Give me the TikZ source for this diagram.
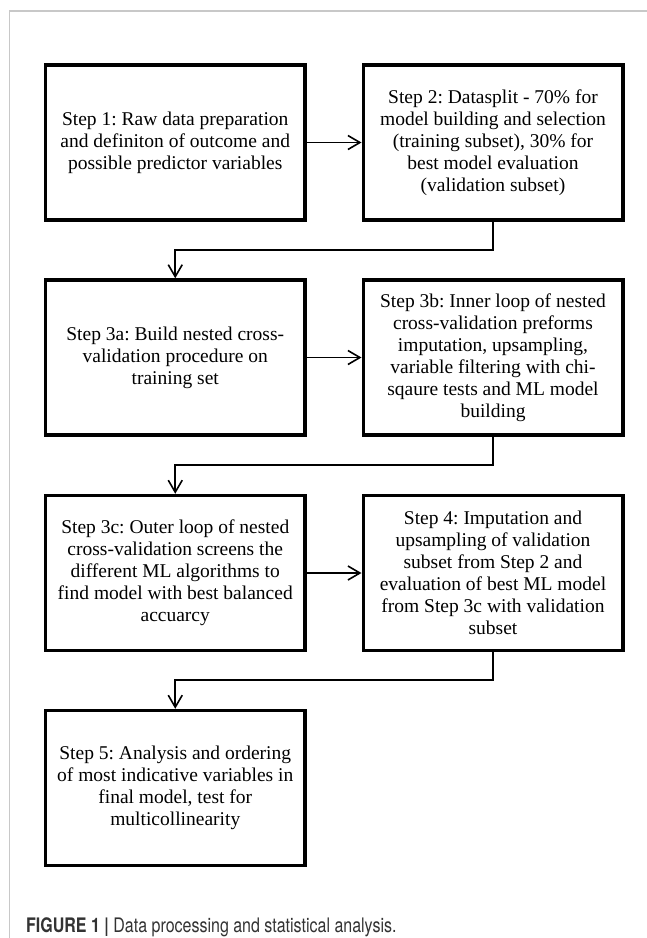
\documentclass[tikz,border=0pt]{standalone}
\usepackage{fontspec}
\setmainfont{Liberation Serif}
\newfontfamily\capfont[FakeStretch=0.8]{TeX Gyre Heros}
\usetikzlibrary{arrows.meta}
\definecolor{framegray}{HTML}{C8C8C8}
\definecolor{captext}{HTML}{333333}
\tikzset{
  stepbox/.style={draw=black, line width=3.5pt, rectangle, minimum width=259.5pt, minimum height=155pt, align=center, inner sep=0pt, font=\frenchspacing\fontsize{19.5}{22}\selectfont},
  conn/.style={line width=1.6pt, -{Straight Barb[length=12pt,width=14pt,line width=1.6pt]}},
}
\begin{document}
\begin{tikzpicture}[x=1pt,y=-1pt]
\useasboundingbox (0,0) rectangle (647,938);
\draw[framegray, line width=1.5pt] (647,11) -- (9.5,11) -- (9.5,938);

\node[stepbox] (b1) at (175.25,142.5) {Step 1: Raw data preparation\\and definiton of outcome and\\possible predictor variables};
\node[stepbox] (b2) at (493,142.5) {Step 2: Datasplit - 70\% for\\model building and selection\\(training subset), 30\% for\\best model evaluation\\(validation subset)};
\node[stepbox] (b3) at (175.25,357.5) {Step 3a: Build nested cross-\\validation procedure on\\training set};
\node[stepbox] (b4) at (493,357.5) {Step 3b: Inner loop of nested\\cross-validation preforms\\imputation, upsampling,\\variable filtering with chi-\\sqaure tests and ML model\\building};
\node[stepbox] (b5) at (175.25,573) {Step 3c: Outer loop of nested\\cross-validation screens the\\different ML algorithms to\\find model with best balanced\\accuarcy};
\node[stepbox] (b6) at (493,573) {Step 4: Imputation and\\upsampling of validation\\subset from Step 2 and\\evaluation of best ML model\\from Step 3c with validation\\subset};
\node[stepbox] (b7) at (175.25,788) {Step 5: Analysis and ordering\\of most indicative variables in\\final model, test for\\multicollinearity};

\coordinate (c1) at (0,250);
\coordinate (c2) at (0,465);
\coordinate (c3) at (0,680);

\draw[conn] (b1.east) -- (b2.west);
\draw[conn] (b3.east) -- (b4.west);
\draw[conn] (b5.east) -- (b6.west);
\draw[conn] (b2.south) -- (b2.south |- c1) -| (b3.north);
\draw[conn] (b4.south) -- (b4.south |- c2) -| (b5.north);
\draw[conn] (b6.south) -- (b6.south |- c3) -| (b7.north);

\node[anchor=base west, inner sep=0pt, text=captext, font=\capfont\fontsize{20}{22}\selectfont] (cap) at (26,932) {\textbf{FIGURE 1 |} Data processing and statistical analysis.};
\end{tikzpicture}
\end{document}
